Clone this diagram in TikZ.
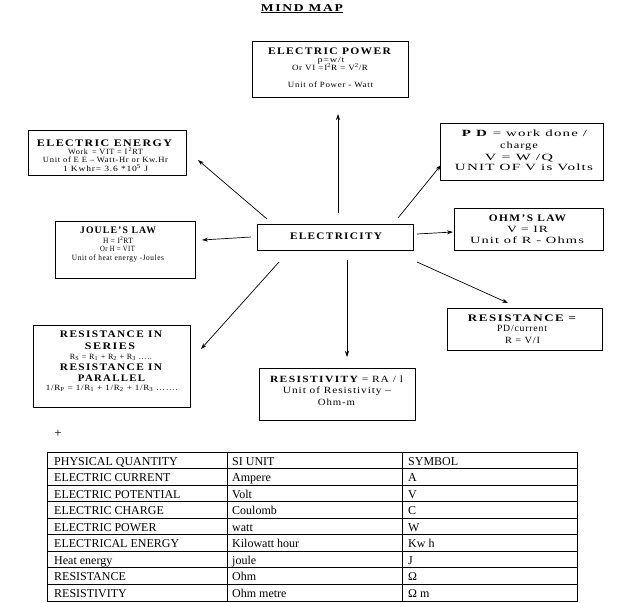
\documentclass[tikz,border=0pt]{standalone}
\usepackage{fontspec}
\usepackage{graphicx}
\setmainfont{Liberation Serif}
\newfontfamily\hdf[LetterSpace=12]{Liberation Serif}
\newfontfamily\bdf[LetterSpace=8]{Liberation Serif}
\newcommand\fw[2]{\resizebox{#1pt}{\height}{#2}}
\usetikzlibrary{arrows.meta}
\begin{document}
\begin{tikzpicture}[x=1pt,y=-1pt,
  box/.style={draw, line width=0.7pt, anchor=north west, inner sep=0pt},
  ln/.style={anchor=base, inner sep=0pt},
  hd/.style={ln, font=\hdf\bfseries\fontsize{10}{12}\selectfont},
  bd/.style={ln, font=\bdf\fontsize{9.5}{11}\selectfont},
  sm/.style={ln, font=\bdf\fontsize{8}{9.5}\selectfont},
  tb/.style={anchor=base west, inner sep=0pt, font=\fontsize{12}{14}\selectfont},
  arr/.style={line width=0.7pt, -{Stealth[length=6pt,width=4pt]}}]
\useasboundingbox[fill=white] (0,0) rectangle (630,603);

% title
\node[ln, font=\hdf\bfseries\fontsize{10.5}{13}\selectfont] (title) at (302,11) {\fw{82}{\underline{MIND MAP}}};

% boxes
\node[box, minimum width=156pt, minimum height=56pt] (power) at (252,41) {};
\node[box, minimum width=158pt, minimum height=45pt] (energy) at (28,130) {};
\node[box, minimum width=163pt, minimum height=57pt] (pd) at (440,123) {};
\node[box, minimum width=140pt, minimum height=57pt] (joule) at (55,221) {};
\node[box, minimum width=156pt, minimum height=26pt] (elec) at (257,224) {};
\node[box, minimum width=149pt, minimum height=42pt] (ohm) at (454,208) {};
\node[box, minimum width=155pt, minimum height=42pt] (res) at (447,308) {};
\node[box, minimum width=157pt, minimum height=82pt] (series) at (33,325) {};
\node[box, minimum width=156pt, minimum height=52pt] (resist) at (259,368) {};

% electric power
\node[hd] (pw1) at (329.5,54) {\fw{123}{ELECTRIC POWER}};
\node[sm] (pw2) at (331,62) {\fw{27}{p=w/t}};
\node[sm] (pw3) at (330,70.5) {\fw{76}{Or VI =I\textsuperscript{2}R = V\textsuperscript{2}/R}};
\node[sm] (pw4) at (330.5,87) {\fw{85}{Unit of Power - Watt}};

% electric energy
\node[hd] (en1) at (104.5,146) {\fw{135}{ELECTRIC ENERGY}};
\node[sm] (en2) at (105.5,154.5) {\fw{75}{Work \,= VIT = I\,\textsuperscript{2}RT}};
\node[sm] (en3) at (105.5,162.5) {\fw{125}{Unit of E E – Watt-Hr or Kw.Hr}};
\node[sm] (en4) at (105.5,171) {\fw{85}{1 Kwhr= 3.6 *10\textsuperscript{5} J}};

% pd
\node[bd] (pd1) at (524.5,136) {\fw{125}{\textbf{P D} = work done /}};
\node[bd] (pd2) at (519,148.5) {\fw{38}{charge}};
\node[bd] (pd3) at (519,160.5) {\fw{68}{V = W /Q}};
\node[bd] (pd4) at (524,170.5) {\fw{138}{UNIT OF V is Volts}};

% joule
\node[hd] (jo1) at (118,233.5) {\fw{76}{JOULE’S LAW}};
\node[sm] (jo2) at (118,243) {\fw{30}{H = I\textsuperscript{2}RT}};
\node[sm] (jo3) at (117.5,251) {\fw{35}{Or H = VIT}};
\node[sm] (jo4) at (118,260) {\fw{92}{Unit of heat energy -Joules}};

% electricity
\node[hd] (el1) at (336,239) {\fw{92}{ELECTRICITY}};

% ohm
\node[hd] (oh1) at (527.5,221) {\fw{77}{OHM’S LAW}};
\node[bd] (oh2) at (527.5,232.5) {\fw{41}{V = IR}};
\node[bd] (oh3) at (527,243.5) {\fw{114}{Unit of R - Ohms}};

% resistance
\node[hd] (re1) at (522,321) {\fw{108}{RESISTANCE =}};
\node[bd] (re2) at (522,331.5) {\fw{50}{PD/current}};
\node[bd] (re3) at (522.5,343.5) {\fw{35}{R = V/I}};

% series / parallel
\node[hd] (se1) at (111,337) {\fw{102}{RESISTANCE IN}};
\node[hd] (se2) at (110,349) {\fw{50}{SERIES}};
\node[sm] (se3) at (111,359) {\fw{82}{R\textsubscript{S} = R\textsubscript{1} + R\textsubscript{2} + R\textsubscript{3} …..}};
\node[hd] (se4) at (111,370) {\fw{102}{RESISTANCE IN}};
\node[hd] (se5) at (111.5,381) {\fw{67}{PARALLEL}};
\node[sm] (se6) at (112,390) {\fw{132}{1/R\textsubscript{P} = 1/R\textsubscript{1} + 1/R\textsubscript{2} + 1/R\textsubscript{3} …….}};

% resistivity
\node[bd] (rv1) at (336.5,382) {\fw{133}{{\hdf\bfseries RESISTIVITY} = RA / l}};
\node[bd] (rv2) at (337,393.5) {\fw{108}{Unit of Resistivity –}};
\node[bd] (rv3) at (336.5,405.5) {\fw{37}{Ohm-m}};

% arrows
\coordinate (a1s) at (338,213); \coordinate (a1e) at (338,114);
\coordinate (a2s) at (267,219); \coordinate (a2e) at (198,160);
\coordinate (a3s) at (398,218); \coordinate (a3e) at (441,165);
\coordinate (a4s) at (251,237); \coordinate (a4e) at (202,240);
\coordinate (a5s) at (417,234); \coordinate (a5e) at (453,232);
\coordinate (a6s) at (417,262); \coordinate (a6e) at (508,303);
\coordinate (a7s) at (347,260); \coordinate (a7e) at (347,357);
\coordinate (a8s) at (279,262); \coordinate (a8e) at (201,349);
\foreach \i in {1,...,8} {\draw[arr] (a\i s) -- (a\i e);}

% plus
\node[ln, font=\fontsize{13}{15}\selectfont] (plus) at (58,437) {+};

% table
\draw[line width=0.8pt] (47,452) rectangle (577,601);
\foreach \k in {1,...,8} {\draw[line width=0.8pt] (47,452+16.55*\k) -- (577,452+16.55*\k);}
\draw[line width=0.8pt] (227,452) -- (227,601);
\draw[line width=0.8pt] (402,452) -- (402,601);

\foreach \a/\b/\c [count=\r from 0] in {
  PHYSICAL QUANTITY/SI UNIT/SYMBOL,
  ELECTRIC CURRENT/Ampere/A,
  ELECTRIC POTENTIAL/Volt/V,
  ELECTRIC CHARGE/Coulomb/C,
  ELECTRIC POWER/watt/W,
  ELECTRICAL ENERGY/Kilowatt hour/Kw h,
  Heat energy/joule/J,
  RESISTANCE/Ohm/Ω,
  RESISTIVITY/Ohm metre/Ω m} {
  \node[tb] (ta\r) at (54,465+16.55*\r) {\a};
  \node[tb] (tb\r) at (232,465+16.55*\r) {\b};
  \node[tb] (tc\r) at (408,465+16.55*\r) {\c};
}
\end{tikzpicture}
\end{document}
